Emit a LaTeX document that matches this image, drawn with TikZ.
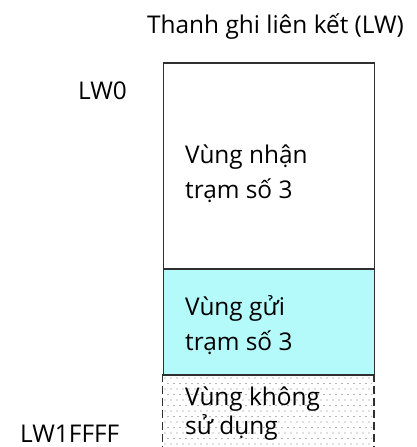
\documentclass[tikz,border=0pt]{standalone}
\usepackage{fontspec}
\setmainfont{Open Sans}
\definecolor{edge}{HTML}{303030}
\definecolor{sendfill}{HTML}{B4FAFA}
\definecolor{dotc}{HTML}{A8A8A8}
\tikzset{
  lbl/.style={anchor=base west, inner sep=0pt, font=\fontsize{24.4}{35}\selectfont, text=black},
  region/.style={anchor=north west, inner sep=0pt, minimum width=211pt, line width=1.8pt, draw=edge},
}
\begin{document}
\begin{tikzpicture}[x=1pt,y=-1pt]
\useasboundingbox (0,0) rectangle (416,447);
% unused region (dotted, dashed sides)
\fill[white] (163,374) rectangle (373,447);
\begin{scope}
  \clip (164,374) rectangle (372,447);
  \foreach \yy in {0,...,13}{
    \foreach \xx in {0,...,35}{
      \fill[dotc] ({165+\xx*6+mod(\yy,2)*3},{378+\yy*5.5}) ellipse (0.9pt and 0.6pt);
    }
  }
\end{scope}
\node[anchor=north west, inner sep=0pt, minimum width=211pt, minimum height=80pt] (unused) at (162.5,374) {};
\draw[edge, line width=1.8pt, dash pattern=on 8pt off 4pt] (unused.north west) -- (unused.south west);
\draw[edge, line width=1.8pt, dash pattern=on 8pt off 4pt] (unused.north east) -- (unused.south east);
% receive region
\node[region, fill=white, minimum height=206pt] (recv) at (162.5,62) {};
% send region
\node[region, fill=sendfill, minimum height=106pt] (send) at (162.5,268) {};
% labels
\node[lbl] (title) at (147,33) {Thanh ghi liên kết (LW)};
\node[lbl] (lw0) at (78,99) {LW0};
\node[lbl] (lwend) at (20,442) {LW1FFFF};
\node[lbl] (recvA) at (185,163) {Vùng nhận};
\node[lbl] (recvB) at (185,198) {trạm số 3};
\node[lbl] (sendA) at (185,315) {Vùng gửi};
\node[lbl] (sendB) at (185,350) {trạm số 3};
\node[lbl] (unA) at (185,405) {Vùng không};
\node[lbl] (unB) at (185,434) {sử dụng};
\end{tikzpicture}
\end{document}
